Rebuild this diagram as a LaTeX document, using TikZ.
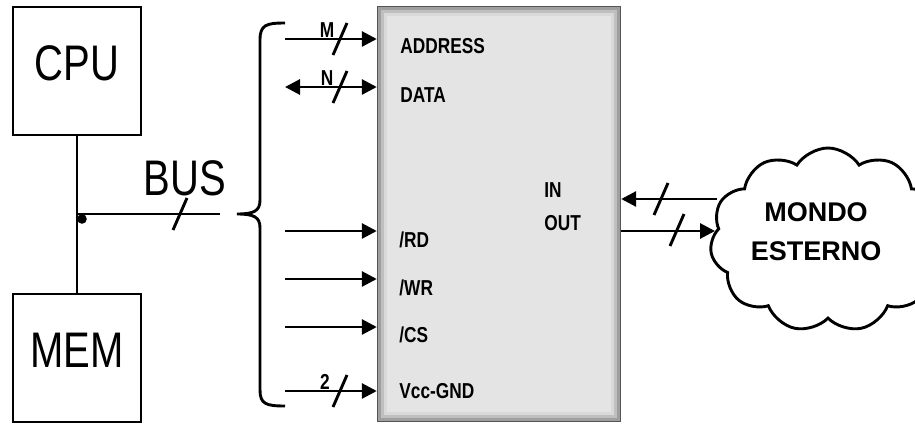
\documentclass[tikz,border=0pt]{standalone}
\usepackage{fontspec}
\setmainfont{Liberation Sans}
\newfontfamily\narrowsans[FakeStretch=0.8]{Liberation Sans}
\usepackage{tikz}
\usetikzlibrary{arrows.meta, positioning, shapes.symbols, calc}
\definecolor{ioFill}{HTML}{E4E4E4}
\definecolor{ioEdge}{HTML}{555555}

\newcommand{\wiretick}[1]{\draw[wire] (#1) ++(-7,16) -- ++(14,-32);}

\tikzset{
  wire/.style={line width=1.45pt},
  sig/.style={wire, -{Triangle[length=7.5pt,width=7.5pt]}},
  sigboth/.style={wire, {Triangle[length=7.5pt,width=7.5pt]}-{Triangle[length=7.5pt,width=7.5pt]}},
  unitbox/.style={draw, line width=1.45pt, minimum width=64pt, minimum height=64pt,
    inner sep=0pt, text depth=8pt, font=\narrowsans\fontsize{25}{30}\selectfont},
  pinlabel/.style={inner sep=0pt, anchor=base west,
    font=\narrowsans\bfseries\fontsize{10.8}{13}\selectfont},
  widthlabel/.style={pinlabel, anchor=base}
}

\begin{document}
\begin{tikzpicture}[x=0.5pt, y=-0.5pt]
  \useasboundingbox (0,0) rectangle (915,423);
  \clip (0,0) rectangle (915,423);

  % cpu and memory hanging on the bus
  \node[unitbox] (cpu) at (77,71) {CPU};
  \node[unitbox] (mem) at (77,358) {MEM};
  \draw[wire] (cpu) -- (mem);
  \coordinate (bus-end) at (220,214);
  \draw[wire] (cpu.south |- bus-end) -- (bus-end);
  \fill (82,219) circle (2.4pt);
  \node[font=\narrowsans\fontsize{25}{30}\selectfont, inner sep=0pt] (bus-label) at (185,178) {BUS};
  \wiretick{180,214}

  % brace opening the bus into its lines
  \draw[wire] (285,23) .. controls (266,23) and (260,25) .. (260,40) -- (260,200)
    .. controls (260,211) and (254,214) .. (237,214)
    .. controls (254,214) and (260,217) .. (260,228) -- (260,390)
    .. controls (260,404) and (266,406) .. (285,406);

  % the interface chip
  \node[draw=ioEdge, line width=1.2pt, fill=ioFill, minimum width=121pt,
        minimum height=207pt, inner sep=0pt] (ioport) at (499,214) {};
  \draw[gray!75, line width=1.5pt] ([shift={(2.5,2.5)}]ioport.north west) rectangle ([shift={(-2.5,-2.5)}]ioport.south east);
  \draw[gray!50, line width=1.5pt] ([shift={(5.5,5.5)}]ioport.north west) rectangle ([shift={(-5.5,-5.5)}]ioport.south east);
  \draw[gray!30, line width=1.5pt] ([shift={(8.5,8.5)}]ioport.north west) rectangle ([shift={(-8.5,-8.5)}]ioport.south east);

  % bus lines into the chip
  \foreach \pin/\y in {addr/39, data/87, rd/231, wr/279, cs/327, vcc/391}
    \coordinate (\pin-in) at (285,\y);
  \draw[sig] (addr-in) -- (addr-in -| ioport.west);
  \draw[sigboth] (data-in) -- (data-in -| ioport.west);
  \foreach \pin in {rd, wr, cs, vcc}
    \draw[sig] (\pin-in) -- (\pin-in -| ioport.west);
  \wiretick{340,39}
  \wiretick{340,87}
  \wiretick{340,391}
  \node[widthlabel] (addr-width) at (327,37) {M};
  \node[widthlabel] (data-width) at (327,85) {N};
  \node[widthlabel] (vcc-width) at (325,389) {2};

  \node[pinlabel] (addr-label) at (400,53) {ADDRESS};
  \node[pinlabel] (data-label) at (400,102) {DATA};
  \node[pinlabel] (rd-label) at (399,247) {/RD};
  \node[pinlabel] (wr-label) at (399,295) {/WR};
  \node[pinlabel] (cs-label) at (399,342) {/CS};
  \node[pinlabel] (vcc-label) at (399,398) {Vcc-GND};
  \node[pinlabel] (in-label) at (544,197) {IN};
  \node[pinlabel] (out-label) at (544,230) {OUT};

  % outside world
  \node[cloud, draw, line width=1.45pt, cloud puffs=11, cloud puff arc=115,
        cloud ignores aspect, minimum width=118pt, minimum height=92pt,
        inner sep=0pt] (world) at (828,240) {};
  \node[align=center, inner sep=0pt, font=\bfseries\fontsize{13.5}{19.5}\selectfont]
    (world-text) at (816,232) {MONDO\\ESTERNO};
  \coordinate (in-start) at (717,199);
  \coordinate (out-end) at (715,231);
  \draw[sig] (in-start) -- (in-start -| ioport.east);
  \draw[sig] (out-end -| ioport.east) -- (out-end);
  \wiretick{661,199}
  \wiretick{677,230}
\end{tikzpicture}
\end{document}
